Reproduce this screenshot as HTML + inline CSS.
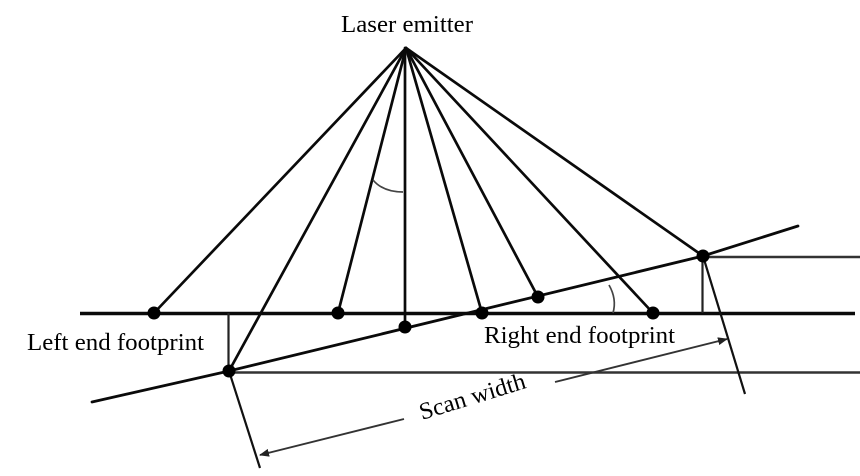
<!DOCTYPE html>
<html><head><meta charset="utf-8"><style>
html,body{margin:0;padding:0;background:#fff;}
svg{display:block;}
text{font-family:"Liberation Serif",serif;fill:#000;}
</style></head><body>
<svg width="860" height="476" viewBox="0 0 860 476" xmlns="http://www.w3.org/2000/svg">
<rect width="860" height="476" fill="#fff"/>
<defs>
<marker id="ah" markerWidth="10" markerHeight="8" refX="9" refY="4" orient="auto" markerUnits="userSpaceOnUse">
<path d="M0,0 L10,4 L0,8 Z" fill="#222"/>
</marker>
</defs>
<!-- rays -->
<g stroke="#0a0a0a" stroke-width="2.7" fill="none" stroke-linecap="round">
<line x1="406" y1="48" x2="154" y2="313"/>
<line x1="406" y1="48" x2="229" y2="371"/>
<line x1="406" y1="48" x2="338" y2="313"/>
<line x1="405" y1="48" x2="405" y2="327"/>
<line x1="406" y1="48" x2="482" y2="313"/>
<line x1="406" y1="48" x2="538" y2="297"/>
<line x1="406" y1="48" x2="653" y2="313"/>
<line x1="406" y1="48" x2="703" y2="256"/>
</g>
<!-- main horizontal -->
<line x1="80" y1="313.5" x2="855" y2="313.5" stroke="#0a0a0a" stroke-width="3.4"/>
<!-- sloped line -->
<polyline points="92,402 229,371 703,256 798,226" stroke="#0a0a0a" stroke-width="2.8" fill="none" stroke-linecap="round"/>
<!-- other horizontals -->
<line x1="703" y1="257" x2="860" y2="257" stroke="#333" stroke-width="2.6"/>
<line x1="229" y1="372.5" x2="860" y2="372.5" stroke="#333" stroke-width="2.6"/>
<!-- verticals -->
<line x1="228.5" y1="313" x2="228.5" y2="371" stroke="#222" stroke-width="2.2"/>
<line x1="702.5" y1="256" x2="702.5" y2="313" stroke="#222" stroke-width="2.2"/>
<!-- perpendiculars -->
<line x1="229" y1="371" x2="260" y2="468" stroke="#111" stroke-width="2.2"/>
<line x1="703" y1="256" x2="745" y2="394" stroke="#111" stroke-width="2.2"/>
<!-- arcs -->
<path d="M373,180 Q383,192 403,192" stroke="#444" stroke-width="1.7" fill="none"/>
<path d="M609,285 Q617,299 613,313" stroke="#444" stroke-width="1.7" fill="none"/>
<!-- scan width arrows -->
<line x1="555" y1="382" x2="727" y2="339" stroke="#333" stroke-width="1.9" marker-end="url(#ah)"/>
<line x1="404" y1="419" x2="260" y2="455" stroke="#333" stroke-width="1.9" marker-end="url(#ah)"/>
<!-- dots -->
<g fill="#000">
<circle cx="154" cy="313" r="6.5"/>
<circle cx="338" cy="313" r="6.5"/>
<circle cx="405" cy="327" r="6.5"/>
<circle cx="482" cy="313" r="6.5"/>
<circle cx="538" cy="297" r="6.5"/>
<circle cx="653" cy="313" r="6.5"/>
<circle cx="703" cy="256" r="6.5"/>
<circle cx="229" cy="371" r="6.5"/>
</g>
<!-- labels -->
<text x="341" y="32" font-size="24" textLength="132" lengthAdjust="spacingAndGlyphs">Laser emitter</text>
<text x="27" y="350" font-size="24" textLength="177" lengthAdjust="spacingAndGlyphs">Left end footprint</text>
<text x="484" y="343" font-size="24" textLength="191" lengthAdjust="spacingAndGlyphs">Right end footprint</text>
<text x="0" y="0" font-size="24" textLength="110" lengthAdjust="spacingAndGlyphs" transform="translate(422,420) rotate(-17)">Scan width</text>
</svg>
</body></html>
